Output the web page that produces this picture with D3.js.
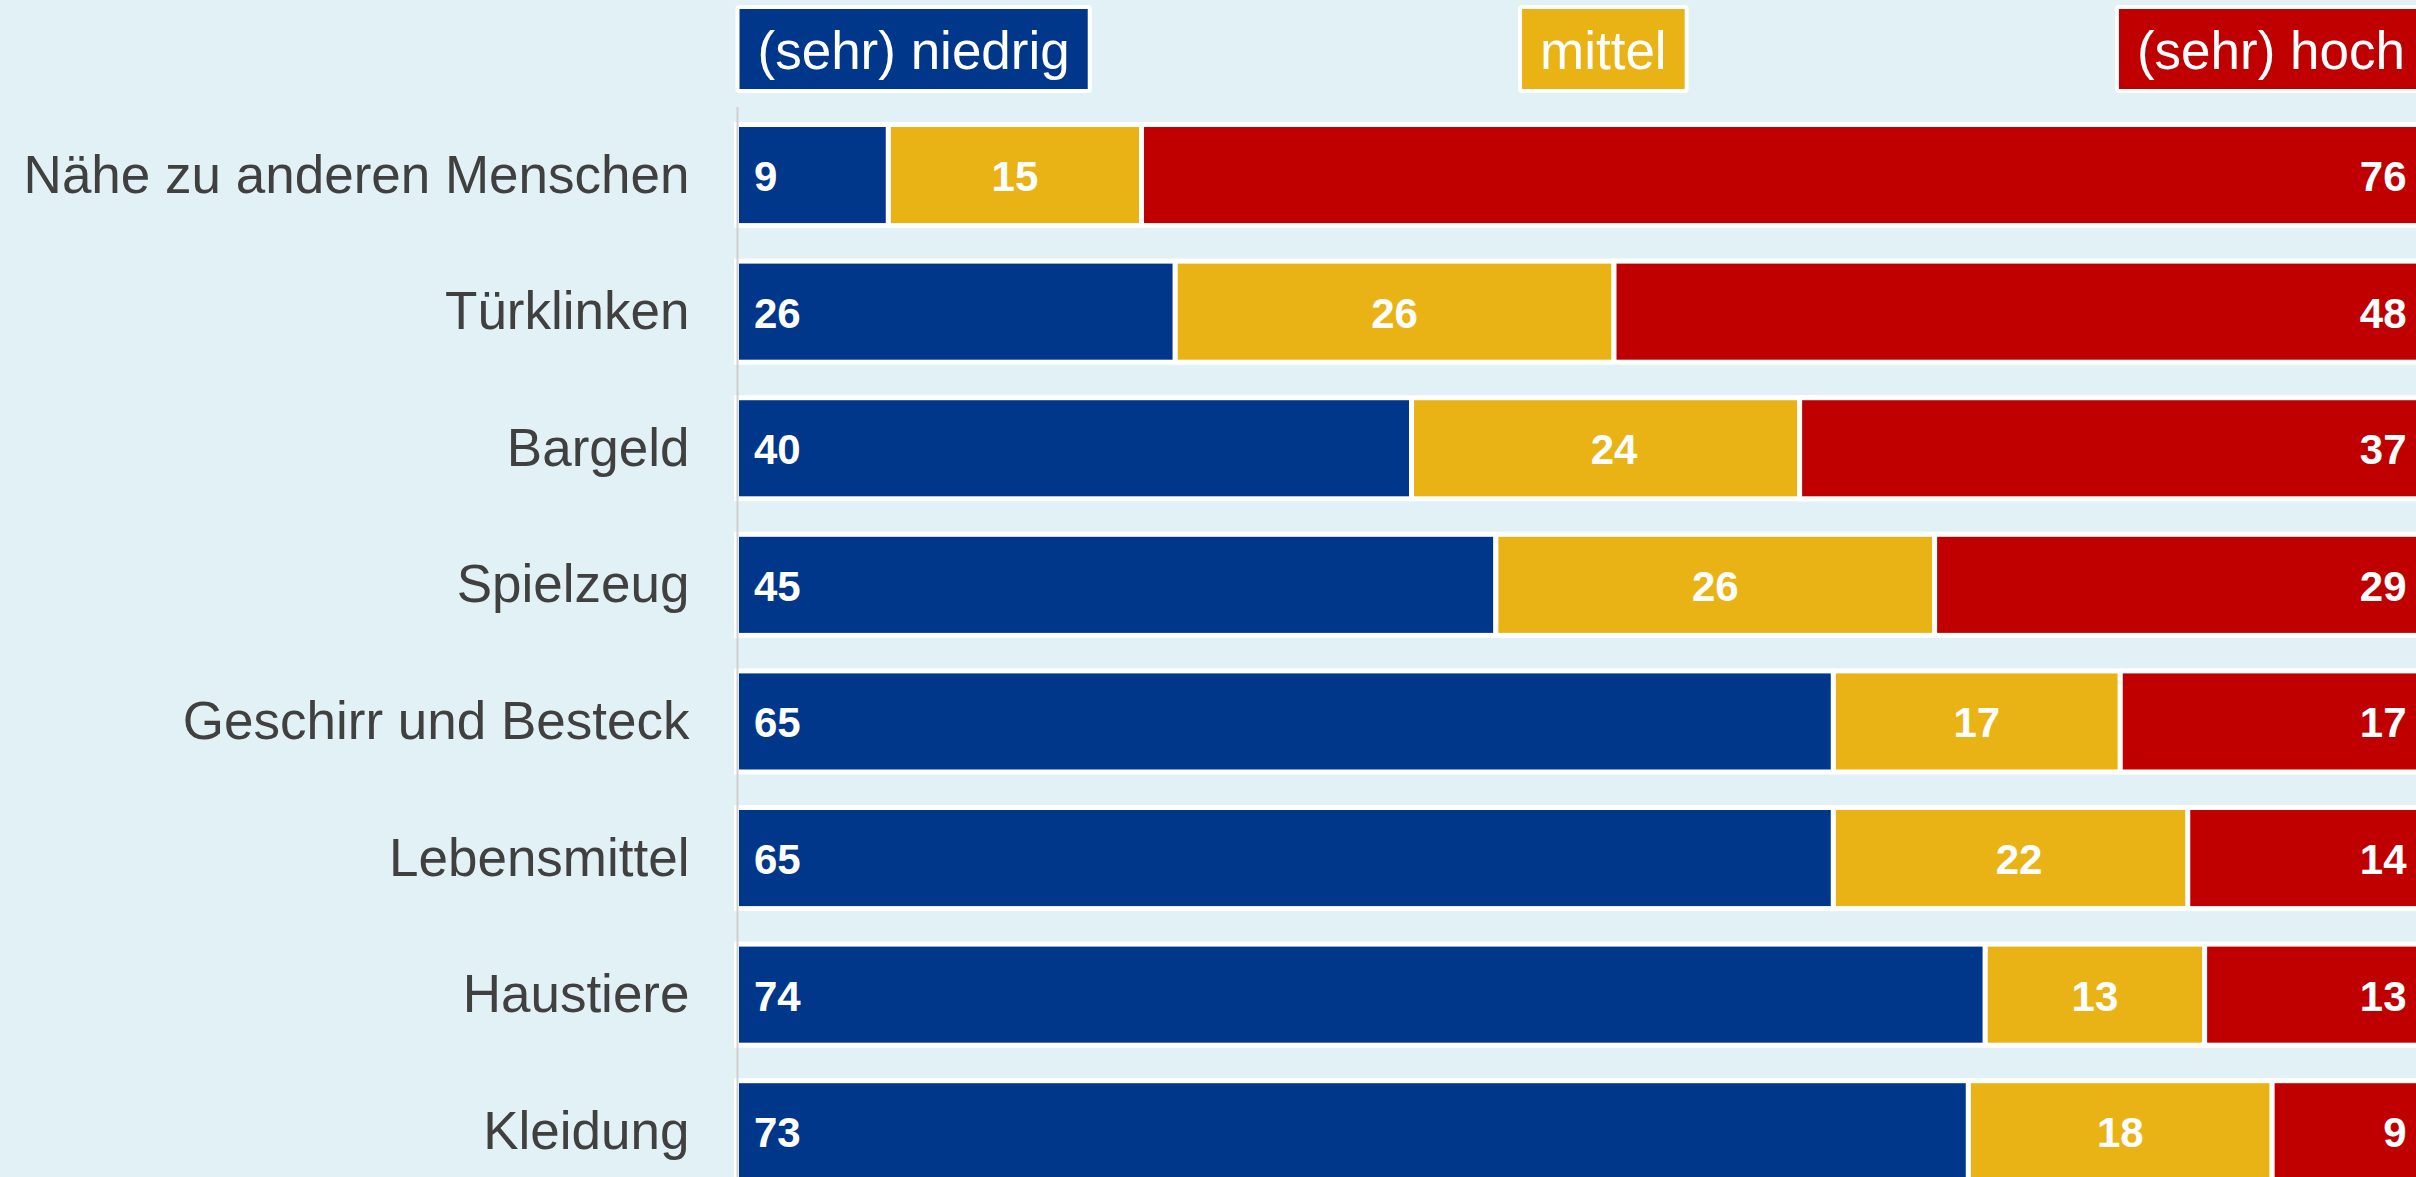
<!DOCTYPE html>
<html>
<head>
<meta charset="utf-8">
<script src="https://cdn.jsdelivr.net/npm/d3@7/dist/d3.min.js"></script>
<style>
  html, body { margin: 0; padding: 0; background: #e2f1f5; overflow: hidden; }
  svg { display: block; }
  text { font-family: "Liberation Sans", Arial, sans-serif; }
</style>
</head>
<body>
<svg id="chart" width="2416" height="1177"></svg>
<script>
// ---- Data ----
const categories = [
  "Nähe zu anderen Menschen",
  "Türklinken",
  "Bargeld",
  "Spielzeug",
  "Geschirr und Besteck",
  "Lebensmittel",
  "Haustiere",
  "Kleidung"
];
const niedrig = [9, 26, 40, 45, 65, 65, 74, 73];
const mittel  = [15, 26, 24, 26, 17, 22, 13, 18];
const hoch    = [76, 48, 37, 29, 17, 14, 13, 9];
const seriesKeys = ["niedrig", "mittel", "hoch"];
const seriesNames = ["(sehr) niedrig", "mittel", "(sehr) hoch"];
const seriesColors = ["#00378a", "#eab315", "#c00000"];

// ---- Build table ----
const rows = categories.map((c, i) => ({
  cat: c, niedrig: niedrig[i], mittel: mittel[i], hoch: hoch[i]
}));

const W = 2416, H = 1177;
const svg = d3.select("#chart");
svg.append("rect").attr("width", W).attr("height", H).attr("fill", "#e2f1f5");

const x = d3.scaleLinear().domain([0, 100]).range([736.5, 2424]);
const y = d3.scaleBand().domain(categories).range([89, 1217.3])
  .paddingInner(0.26).paddingOuter(0.26);

const stack = d3.stack().keys(seriesKeys);
const stacked = stack(rows);
const color = d3.scaleOrdinal().domain(seriesKeys).range(seriesColors);
const last = stacked.length - 1;

// Segment extents: the last (rounded) segment fills to the 100 % edge
function seg(d, si) {
  if (si !== last) return [d[0], d[1]];
  const v = d[1] - d[0];
  return [Math.min(d[0], 100 - v), Math.max(d[1], 100)];
}

// Bars
const g = svg.append("g");
stacked.forEach((s, si) => {
  g.selectAll(null).data(s).enter().append("rect")
    .attr("x", d => x(seg(d, si)[0]))
    .attr("y", d => y(d.data.cat))
    .attr("width", d => x(seg(d, si)[1]) - x(seg(d, si)[0]))
    .attr("height", y.bandwidth())
    .attr("fill", color(s.key))
    .attr("stroke", "#ffffff")
    .attr("stroke-width", 5);
});

// Value labels
const pad = 17.5;
stacked.forEach((s, si) => {
  g.selectAll(null).data(s).enter().append("text")
    .attr("x", d => si === 0 ? x(d[0]) + pad : si === 1 ? (x(d[0]) + x(d[1])) / 2 : x(100) - pad)
    .attr("y", d => y(d.data.cat) + y.bandwidth() / 2 + 16)
    .attr("text-anchor", si === 0 ? "start" : si === 1 ? "middle" : "end")
    .attr("fill", "#ffffff")
    .attr("font-weight", "bold")
    .attr("font-size", 42)
    .text(d => d.data[s.key]);
});

// Category axis
const axis = svg.append("g")
  .attr("transform", `translate(${x(0)},0)`)
  .call(d3.axisLeft(y).tickSize(0).tickPadding(47));
axis.select(".domain").remove();
axis.selectAll("text")
  .attr("font-size", 53)
  .attr("fill", "#404040")
  .attr("dy", "0.33em")
  .style("font-family", "\"Liberation Sans\", Arial, sans-serif");

// Axis line
svg.append("line")
  .attr("x1", x(0) + 1).attr("x2", x(0) + 1)
  .attr("y1", 107).attr("y2", H)
  .attr("stroke", "#d0d0d0").attr("stroke-width", 2);

// Legend (space-between across plot width)
const legend = svg.append("g");
const lpad = 20;
const items = seriesNames.map((name, i) => {
  const t = legend.append("text")
    .attr("font-size", 53).attr("fill", "#ffffff")
    .attr("y", 68.5).text(name);
  return { t, w: t.node().getComputedTextLength() + 2 * lpad, i };
});
const totalW = items.reduce((a, b) => a + b.w, 0);
const gap = (x(100) - x(0) - totalW) / (items.length - 1);
let cx = x(0);
items.forEach(it => {
  legend.insert("rect", "text")
    .attr("x", cx + 1).attr("y", 7)
    .attr("width", it.w).attr("height", 84)
    .attr("rx", 2)
    .attr("fill", seriesColors[it.i])
    .attr("stroke", "#ffffff").attr("stroke-width", 4);
  it.t.attr("x", cx + 1 + lpad);
  cx += it.w + gap;
});
</script>
</body>
</html>
